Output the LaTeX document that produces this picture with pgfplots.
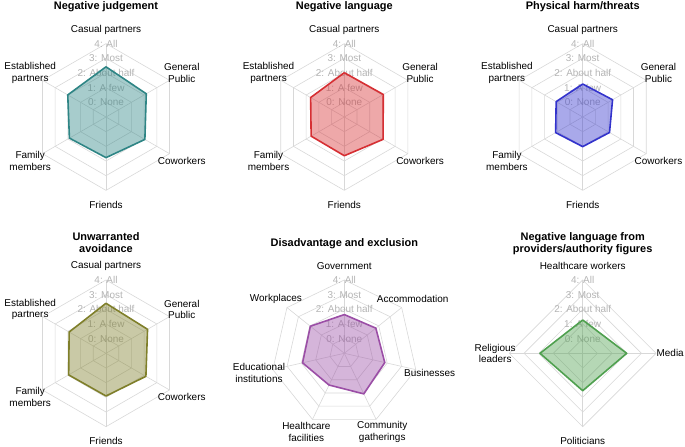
\documentclass[border=0pt]{standalone}
\usepackage{pgfplots}
\pgfplotsset{compat=1.18}
\usepackage{pgfplotstable}
\usepackage{fontspec}
\setmainfont{Liberation Sans}

\definecolor{cteal}{HTML}{2E8585}
\definecolor{cred}{HTML}{D62F33}
\definecolor{cblue}{HTML}{3333CC}
\definecolor{colive}{HTML}{7F7F2A}
\definecolor{cpurple}{HTML}{9B4EA6}
\definecolor{cgreen}{HTML}{4FA04F}
\definecolor{gridgrey}{HTML}{D8D8D8}
\definecolor{labgrey}{HTML}{B4B4B4}

% values 0 = None ... 4 = All
\pgfplotstableread{
angle v
90   2.42
30   2.17
-30  2.06
-90  1.77
-150 1.88
150  2.01
90   2.42
}\tabjudgement
\pgfplotstableread{
angle v
90   2.02
30   2.07
-30  2.05
-90  1.64
-150 1.61
150  1.65
90   2.02
}\tablanguage
\pgfplotstableread{
angle v
90   1.25
30   1.35
-30  1.11
-90  1.02
-150 1.13
150  1.09
90   1.25
}\tabharm
\pgfplotstableread{
angle v
90   2.41
30   2.27
-30  2.14
-90  1.91
-150 1.94
150  1.90
90   2.41
}\tabavoidance
\pgfplotstableread{
angle v
90      1.64
38.57   1.75
-12.86  1.83
-64.29  2.07
-115.71 1.40
-167.14 1.92
141.43  1.96
90      1.64
}\tabexclusion
\pgfplotstableread{
angle v
90   1.27
0    2.00
-90  1.55
180  1.91
90   1.27
}\tabauthority

\pgfplotsset{
  radar/.style={x=14.67bp, y=14.67bp, xmin=-6, xmax=6, ymin=-6, ymax=6,
    hide axis, clip=false, anchor=center},
  gridline/.style={data cs=polar, draw=gridgrey, line width=0.6bp, mark=none, forget plot},
  series/.style={data cs=polar, draw=#1, line width=1.6bp, line join=round,
    fill=#1, fill opacity=0.42, draw opacity=1, mark=none},
}
\tikzset{
  ringlab/.style={text=labgrey, font=\fontsize{10}{11}\selectfont, inner sep=0pt},
  catlab/.style={font=\fontsize{10}{11.7}\selectfont, align=center, inner sep=0pt},
  ttl/.style={font=\bfseries\fontsize{11}{12.4}\selectfont, align=center, inner sep=0pt, anchor=base},
}

\newcommand\hexgrid{%
  \pgfplotsinvokeforeach{1,...,5}{\addplot[gridline] coordinates {(90,##1) (30,##1) (-30,##1) (-90,##1) (-150,##1) (150,##1) (90,##1)};}%
  \pgfplotsinvokeforeach{90,30,-30,-90,-150,150}{\addplot[gridline] coordinates {(##1,0) (##1,5)};}}
\newcommand\heptgrid{%
  \pgfplotsinvokeforeach{1,...,5}{\addplot[gridline] coordinates {(90,##1) (38.57,##1) (-12.86,##1) (-64.29,##1) (-115.71,##1) (-167.14,##1) (141.43,##1) (90,##1)};}%
  \pgfplotsinvokeforeach{90,38.57,-12.86,-64.29,-115.71,-167.14,141.43}{\addplot[gridline] coordinates {(##1,0) (##1,5)};}}
\newcommand\quadgrid{%
  \pgfplotsinvokeforeach{1,...,5}{\addplot[gridline] coordinates {(90,##1) (0,##1) (-90,##1) (180,##1) (90,##1)};}%
  \pgfplotsinvokeforeach{90,0,-90,180}{\addplot[gridline] coordinates {(##1,0) (##1,5)};}}
\newcommand\ringlabels{%
  \node[ringlab] at (axis cs:0,5) {4: All};
  \node[ringlab] at (axis cs:0,4) {3: Most};
  \node[ringlab] at (axis cs:0,3) {2: About half};
  \node[ringlab] at (axis cs:0,2) {1: A few};
  \node[ringlab] at (axis cs:0,1) {0: None};}
\newcommand\cat[2]{\node[catlab] at ([shift={(#1:87.5bp)}]axis cs:0,0) {#2};}
\newcommand\hexcats{%
  \cat{90}{Casual partners}
  \cat{30}{General\\Public}
  \cat{-30}{Coworkers}
  \cat{-90}{Friends}
  \cat{-150}{Family\\members}
  \cat{150}{Established\\partners}}

\begin{document}
\begin{tikzpicture}
% row 1
\begin{axis}[radar, at={(106bp,-117bp)}]
  \hexgrid \ringlabels
  \addplot[series=cteal] table[x=angle, y expr=\thisrow{v}+1] {\tabjudgement};
  \hexcats
  \node[ttl] at ([yshift=107bp]axis cs:0,0) {Negative judgement};
\end{axis}
\begin{axis}[radar, at={(344.3bp,-117bp)}]
  \hexgrid \ringlabels
  \addplot[series=cred] table[x=angle, y expr=\thisrow{v}+1] {\tablanguage};
  \hexcats
  \node[ttl] at ([yshift=107bp]axis cs:0,0) {Negative language};
\end{axis}
\begin{axis}[radar, at={(582.7bp,-117bp)}]
  \hexgrid \ringlabels
  \addplot[series=cblue] table[x=angle, y expr=\thisrow{v}+1] {\tabharm};
  \hexcats
  \node[ttl] at ([yshift=107bp]axis cs:0,0) {Physical harm/threats};
\end{axis}
% row 2
\begin{axis}[radar, at={(106bp,-353.3bp)}]
  \hexgrid \ringlabels
  \addplot[series=colive] table[x=angle, y expr=\thisrow{v}+1] {\tabavoidance};
  \hexcats
  \node[ttl] at ([yshift=100.5bp]axis cs:0,0) {Unwarranted\\avoidance};
\end{axis}
\begin{axis}[radar, at={(344.3bp,-353.3bp)}]
  \heptgrid \ringlabels
  \addplot[series=cpurple] table[x=angle, y expr=\thisrow{v}+1] {\tabexclusion};
  \cat{90}{Government}
  \cat{38.57}{Accommodation}
  \cat{-12.86}{Businesses}
  \cat{-64.29}{Community\\gatherings}
  \cat{-115.71}{Healthcare\\facilities}
  \cat{-167.14}{Educational\\institutions}
  \cat{141.43}{Workplaces}
  \node[ttl] at ([yshift=107.3bp]axis cs:0,0) {Disadvantage and exclusion};
\end{axis}
\begin{axis}[radar, at={(582.7bp,-353.3bp)}]
  \quadgrid \ringlabels
  \addplot[series=cgreen] table[x=angle, y expr=\thisrow{v}+1] {\tabauthority};
  \cat{90}{Healthcare workers}
  \cat{0}{Media}
  \cat{-90}{Politicians}
  \cat{180}{Religious\\leaders}
  \node[ttl] at ([yshift=100.5bp]axis cs:0,0) {Negative language from\\providers/authority figures};
\end{axis}
\pgfresetboundingbox
\path[use as bounding box] (0,0) rectangle (685bp,-447bp);
\end{tikzpicture}
\end{document}
